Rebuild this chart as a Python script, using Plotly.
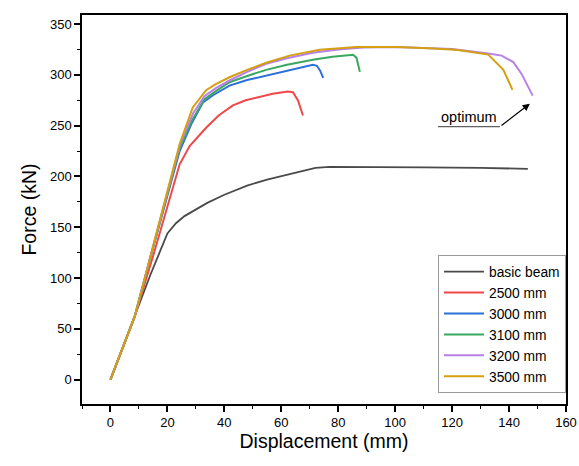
import plotly.graph_objects as go

names = ["basic beam", "2500 mm", "3000 mm", "3100 mm", "3200 mm", "3500 mm"]
colors = ["#4a4a4a", "#f04848", "#2a70d8", "#3aa860", "#b880e8", "#d4a010"]

basic_x = [0, 8.5, 14, 20, 23, 26, 29, 34, 40, 48, 55, 62, 68, 72, 77, 90, 110, 130, 146.6]
basic_y = [0, 62, 103, 144, 154, 161, 166, 174, 182, 191, 197, 202, 206, 208.5, 209.5, 209.5, 209, 208.5, 207.5]

r2500_x = [0, 8.5, 15, 20.7, 24.3, 27.8, 33.6, 38, 43, 47.5, 52.4, 57, 62.3, 64.1, 65.9, 67, 67.6]
r2500_y = [0, 62, 122, 176, 212, 230, 248, 260, 270, 275, 278.6, 281.5, 283.6, 283, 274.7, 266.5, 260]

r3000_x = [0, 8.5, 14, 18.8, 24.3, 28.4, 32.5, 36, 41.8, 48, 54.7, 62, 67, 71.1, 72.5, 73.7, 74.7]
r3000_y = [0, 62, 120, 170, 225, 251.7, 273, 280, 289.5, 295, 299.4, 304, 307.5, 310, 309, 304, 297]

r3100_x = [0, 8.5, 14, 18.8, 24.3, 28.6, 33, 37, 41.8, 48, 54.7, 62, 71.1, 78, 85.2, 86.4, 87.6]
r3100_y = [0, 62, 120, 171, 228, 255, 276, 284, 292.8, 299, 305, 310, 315, 318, 319.9, 317, 303]

r3200_x = [0, 8.5, 14, 18.6, 24.5, 29, 33, 37, 41.8, 48, 54.7, 62, 71.1, 80, 88.7, 100, 106.3, 120, 132.7, 137.4, 141.5, 144.4, 148.3]
r3200_y = [0, 62, 121, 170, 232, 262, 279, 287, 294.5, 303, 311, 316.5, 321.8, 325, 327, 327.5, 327, 325.5, 321, 319, 312.6, 301, 279.6]

r3500_x = [0, 8.5, 13, 18.4, 24.3, 28.9, 33.6, 37, 41.8, 48, 54.7, 62.9, 73.5, 86.4, 100.5, 113.4, 122, 132.7, 138, 141.2]
r3500_y = [0, 62, 110, 168, 232, 268, 285, 291, 297.7, 305, 312, 319, 324.8, 327.4, 327.4, 326, 324.5, 320, 305, 285.3]

series_x = [basic_x, r2500_x, r3000_x, r3100_x, r3200_x, r3500_x]
series_y = [basic_y, r2500_y, r3000_y, r3100_y, r3200_y, r3500_y]

x_ticks = list(range(0, 161, 20))
y_ticks = list(range(0, 351, 50))

fig = go.Figure()
for n, c, xs, ys in zip(names, colors, series_x, series_y):
    fig.add_trace(go.Scatter(x=xs, y=ys, mode="lines", name=n,
                             line=dict(color=c, width=1.8 if n == "basic beam" else 2)))

font = "Liberation Sans, Arial, sans-serif"
axis_common = dict(showline=True, linecolor="black", linewidth=1.5, mirror=True,
                   ticks="outside", ticklen=6, tickwidth=1.5, tickcolor="black",
                   showgrid=False, zeroline=False, automargin=False,
                   tickfont=dict(family=font, size=13, color="black"))

fig.update_layout(
    width=579, height=466,
    margin=dict(l=82, r=13, t=15, b=62),
    paper_bgcolor="white", plot_bgcolor="white",
    font=dict(family=font, color="black"),
    xaxis=dict(range=[-10, 160], tickvals=x_ticks,
               minor=dict(dtick=10, tick0=0, ticks="outside", ticklen=3, tickwidth=1.2, tickcolor="black"),
               title=dict(text="Displacement (mm)", font=dict(family=font, size=19.5), standoff=4),
               **axis_common),
    yaxis=dict(range=[-24, 359], tickvals=y_ticks,
               minor=dict(dtick=25, tick0=0, ticks="outside", ticklen=3, tickwidth=1.2, tickcolor="black"),
               title=dict(text="Force (kN)", font=dict(family=font, size=19.5), standoff=8),
               **axis_common),
    legend=dict(x=1.0, y=0.028, xanchor="right", yanchor="bottom",
                bgcolor="white", bordercolor="#9a9a9a", borderwidth=1,
                font=dict(family=font, size=13.8, color="black"),
                tracegroupgap=0, itemwidth=40),
    showlegend=True,
)

fig.add_annotation(x=125.9, y=259, text="optimum", showarrow=False,
                   font=dict(family=font, size=14.5, color="black"))
fig.add_shape(type="line", x0=115, x1=136.8, y0=249, y1=249,
              line=dict(color="#606060", width=1.2))
fig.add_annotation(x=147.3, y=271.7, ax=136.8, ay=249, axref="x", ayref="y",
                   text="", showarrow=True, arrowhead=2, arrowsize=1.2,
                   arrowwidth=1.2, arrowcolor="black")

fig.write_html("out.html")
